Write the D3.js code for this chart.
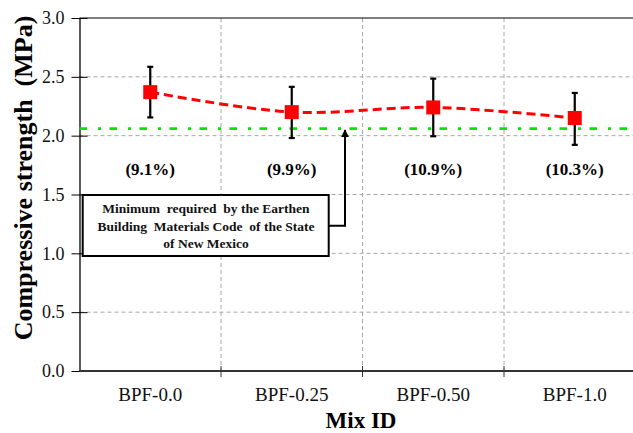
<!DOCTYPE html>
<html>
<head>
<meta charset="utf-8">
<script src="https://cdn.jsdelivr.net/npm/d3@7"></script>
<style>
  html, body { margin: 0; padding: 0; background: #fff; overflow: hidden; }
  svg { display: block; }
  svg text { font-family: "Liberation Serif", "Times New Roman", Times, serif; }
</style>
</head>
<body>
<div id="chart"></div>
<script>
// mix ids and measured strength (MPa)
const mixIds = ['BPF-0.0', 'BPF-0.25', 'BPF-0.50', 'BPF-1.0'];
const strength = [2.37, 2.20, 2.24, 2.15];
const errUpper = [2.585, 2.415, 2.485, 2.363];
const errLower = [2.155, 1.98, 1.995, 1.922];
const covLabels = ['(9.1%)', '(9.9%)', '(10.9%)', '(10.3%)'];
const yTicks = [0, 0.5, 1.0, 1.5, 2.0, 2.5, 3.0];
const minRequired = 2.06;
const noteLines = ['Minimum  required  by the Earthen', 'Building  Materials Code  of the State', 'of New Mexico'];

const config = {
  width: 633, height: 433,
  margin: {top: 18, left: 79.5},
  plotWidth: 566, plotHeight: 353
};

const svg = d3.select('#chart').append('svg')
  .attr('width', config.width)
  .attr('height', config.height);

const chart = svg.append('g')
  .attr('transform', `translate(${config.margin.left},${config.margin.top})`);

const x = d3.scaleBand().domain(mixIds).range([0, config.plotWidth]);
const y = d3.scaleLinear().domain([0, 3]).range([config.plotHeight, 0]);
const cx = d => x(d) + x.bandwidth() / 2;

// gridlines
chart.append('g')
  .selectAll('line')
  .data(yTicks.filter(t => t > 0 && t < 3))
  .join('line')
  .attr('x1', 0).attr('x2', config.plotWidth)
  .attr('y1', d => y(d)).attr('y2', d => y(d))
  .attr('stroke', '#a6a6a6').attr('stroke-width', 1)
  .attr('stroke-dasharray', '4,3');

chart.append('g')
  .selectAll('line')
  .data(mixIds.slice(1))
  .join('line')
  .attr('x1', d => x(d)).attr('x2', d => x(d))
  .attr('y1', 0).attr('y2', config.plotHeight)
  .attr('stroke', '#a6a6a6').attr('stroke-width', 1)
  .attr('stroke-dasharray', '4,3');

// top border
chart.append('line')
  .attr('x1', 0).attr('x2', config.plotWidth)
  .attr('y1', 0).attr('y2', 0)
  .attr('stroke', '#000').attr('stroke-width', 1.2);

// y axis
const yAxis = d3.axisLeft(y)
  .tickValues(yTicks)
  .tickFormat(d3.format('.1f'))
  .tickSizeInner(8).tickSizeOuter(0)
  .tickPadding(7);

const yAxisG = chart.append('g').call(yAxis);
yAxisG.select('.domain').attr('stroke', '#000').attr('stroke-width', 1.3);
yAxisG.selectAll('.tick line').attr('x2', 8).attr('x1', -8).attr('stroke', '#000');
yAxisG.selectAll('.tick text')
  .attr('font-size', 18)
  .attr('fill', '#111');

// x axis
chart.append('line')
  .attr('x1', 0).attr('x2', config.plotWidth)
  .attr('y1', config.plotHeight).attr('y2', config.plotHeight)
  .attr('stroke', '#333').attr('stroke-width', 2.2);

chart.append('g')
  .selectAll('line')
  .data(mixIds.slice(1))
  .join('line')
  .attr('x1', d => x(d)).attr('x2', d => x(d))
  .attr('y1', config.plotHeight - 5).attr('y2', config.plotHeight + 6)
  .attr('stroke', '#333').attr('stroke-width', 1);

chart.append('g')
  .selectAll('text')
  .data(mixIds)
  .join('text')
  .attr('x', d => cx(d))
  .attr('y', config.plotHeight + 30)
  .attr('text-anchor', 'middle')
  .attr('font-size', 19)
  .attr('fill', '#111')
  .text(d => d);

// axis titles
svg.append('text')
  .attr('x', 361).attr('y', 428)
  .attr('text-anchor', 'middle')
  .attr('font-size', 23).attr('font-weight', 'bold')
  .text('Mix ID');

svg.append('text')
  .attr('transform', 'translate(32,178) rotate(-90)')
  .attr('text-anchor', 'middle')
  .attr('font-size', 26).attr('font-weight', 'bold')
  .attr('xml:space', 'preserve')
  .text('Compressive strength  (MPa)');

// minimum requirement line
chart.append('line')
  .attr('x1', 0).attr('x2', config.plotWidth)
  .attr('y1', y(minRequired)).attr('y2', y(minRequired))
  .attr('stroke', '#00e800').attr('stroke-width', 2.8)
  .attr('stroke-dasharray', '7.5,11,3,8.5');

// smoothed dashed trend
const line = d3.line()
  .x((d, i) => cx(mixIds[i]))
  .y(d => y(d))
  .curve(d3.curveCatmullRom.alpha(0.5));

chart.append('path')
  .datum(strength)
  .attr('d', line)
  .attr('fill', 'none')
  .attr('stroke', '#ff0000').attr('stroke-width', 3)
  .attr('stroke-dasharray', '9,5');

// error bars
const errG = chart.append('g');
errG.selectAll('.err')
  .data(mixIds)
  .join('line')
  .attr('x1', d => cx(d)).attr('x2', d => cx(d))
  .attr('y1', (d, i) => y(errUpper[i])).attr('y2', (d, i) => y(errLower[i]))
  .attr('stroke', '#000').attr('stroke-width', 2.2);

[errUpper, errLower].forEach(vals => {
  errG.append('g').selectAll('line')
    .data(mixIds)
    .join('line')
    .attr('x1', d => cx(d) - 3).attr('x2', d => cx(d) + 3)
    .attr('y1', (d, i) => y(vals[i])).attr('y2', (d, i) => y(vals[i]))
    .attr('stroke', '#000').attr('stroke-width', 2.2);
});

// markers
chart.append('g')
  .selectAll('rect')
  .data(strength)
  .join('rect')
  .attr('x', (d, i) => cx(mixIds[i]) - 7)
  .attr('y', d => y(d) - 7)
  .attr('width', 14).attr('height', 14)
  .attr('fill', '#ff0000');

// COV labels
chart.append('g')
  .selectAll('text')
  .data(covLabels)
  .join('text')
  .attr('x', (d, i) => cx(mixIds[i]))
  .attr('y', 157)
  .attr('text-anchor', 'middle')
  .attr('font-size', 17).attr('font-weight', 'bold')
  .text(d => d);

// annotation box with connector arrow
svg.append('defs').append('marker')
  .attr('id', 'arrow')
  .attr('viewBox', '0 0 10 10')
  .attr('refX', 9).attr('refY', 5)
  .attr('markerWidth', 4).attr('markerHeight', 4)
  .attr('orient', 'auto')
  .append('path')
  .attr('d', 'M0,0 L10,5 L0,10 Z')
  .attr('fill', '#000');

svg.append('path')
  .attr('d', 'M328.7,225.7 H345 V130')
  .attr('fill', 'none')
  .attr('stroke', '#000').attr('stroke-width', 2)
  .attr('marker-end', 'url(#arrow)');

svg.append('rect')
  .attr('x', 82.7).attr('y', 195)
  .attr('width', 246).attr('height', 61)
  .attr('fill', '#fff')
  .attr('stroke', '#000').attr('stroke-width', 2);

svg.append('g')
  .selectAll('text')
  .data(noteLines)
  .join('text')
  .attr('x', 206)
  .attr('y', (d, i) => 213.3 + i * 17.5)
  .attr('text-anchor', 'middle')
  .attr('font-size', 13.5).attr('font-weight', 'bold')
  .attr('fill', '#111')
  .attr('xml:space', 'preserve')
  .text(d => d);
</script>
</body>
</html>
